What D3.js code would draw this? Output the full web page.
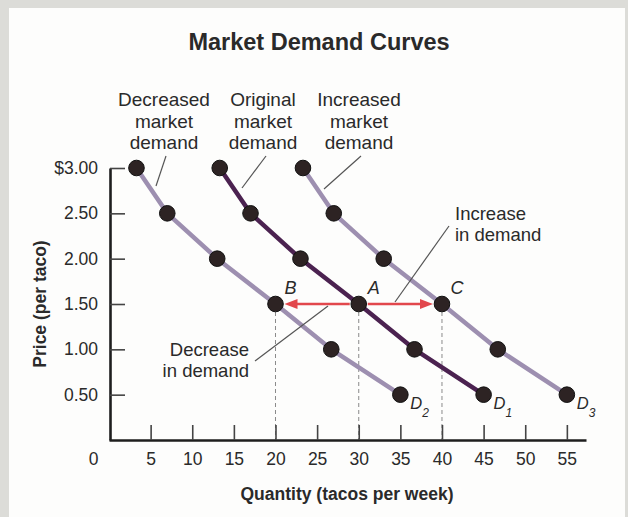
<!DOCTYPE html>
<html>
<head>
<meta charset="utf-8">
<script src="https://cdn.jsdelivr.net/npm/d3@7"></script>
<style>
  html, body { margin: 0; padding: 0; background: #dcdcd8; }
  svg { display: block; }
  text { font-family: "Liberation Sans", Arial, sans-serif; fill: #2a2a2a; }
</style>
</head>
<body>
<svg id="chart" width="628" height="517"></svg>
<script>
// ---- data ----
const prices = [3.00, 2.50, 2.00, 1.50, 1.00, 0.50];
const qtyDecreased = [3.3, 7, 13, 20, 26.7, 35];   // D2
const qtyOriginal  = [13.3, 17, 23, 30, 36.7, 45]; // D1
const qtyIncreased = [23.3, 27, 33, 40, 46.7, 55]; // D3
const seriesNames = ["D2", "D1", "D3"];
const yTicks = [0.5, 1.0, 1.5, 2.0, 2.5, 3.0];
const xTicks = [0, 5, 10, 15, 20, 25, 30, 35, 40, 45, 50, 55];
const shiftPrice = 1.50;
const pointB = 20, pointA = 30, pointC = 40;

const svg = d3.select("#chart");
// panel
svg.append("rect").attr("x", 9).attr("y", 8).attr("width", 616).attr("height", 509).attr("fill", "#fdfdfc");

const x = d3.scaleLinear().domain([0, 57.3]).range([109, 586]);
const y = d3.scaleLinear().domain([0, 3]).range([440, 168]);

// title
svg.append("text").attr("x", 319).attr("y", 50).attr("text-anchor", "middle")
  .style("font-size", "23.5px").style("font-weight", "bold").text("Market Demand Curves");

// dashed guides
[pointB, pointA, pointC].forEach(q => {
  svg.append("line").attr("x1", x(q)).attr("x2", x(q)).attr("y1", y(shiftPrice) + 8).attr("y2", y(0))
    .attr("stroke", "#8a8a8a").attr("stroke-width", 1).attr("stroke-dasharray", "4,3");
});

// axes
const xAxis = d3.axisBottom(x).tickValues(xTicks).tickSize(-15).tickSizeOuter(0).tickPadding(13)
  .tickFormat(d3.format("d"));
const gx = svg.append("g").attr("transform", `translate(0,${y(0)})`).call(xAxis);
gx.select(".domain").attr("stroke", "#1e1e1e").attr("stroke-width", 2.6);
gx.selectAll(".tick line").attr("stroke", "#444").attr("stroke-width", 1.6);
gx.selectAll(".tick text").style("font-size", "17.5px").attr("fill", "#2a2a2a").style("font-family", '"Liberation Sans", Arial, sans-serif');
gx.selectAll(".tick").filter(d => d === 0).select("line").remove();
gx.selectAll(".tick").filter(d => d === 0).select("text").attr("x", -16);

const yAxis = d3.axisLeft(y).tickValues(yTicks).tickSize(-15).tickSizeOuter(0).tickPadding(12)
  .tickFormat(d => d === 3 ? "$3.00" : d.toFixed(2));
const gy = svg.append("g").attr("transform", `translate(${x(0) + 1},0)`).call(yAxis);
gy.select(".domain").attr("stroke", "#1e1e1e").attr("stroke-width", 2.6);
gy.selectAll(".tick line").attr("stroke", "#444").attr("stroke-width", 1.6);
gy.selectAll(".tick text").style("font-size", "17.5px").attr("fill", "#2a2a2a").style("font-family", '"Liberation Sans", Arial, sans-serif');

// axis titles
svg.append("text").attr("x", 347).attr("y", 500).attr("text-anchor", "middle")
  .style("font-size", "17.5px").style("font-weight", "bold").text("Quantity (tacos per week)");
svg.append("text").attr("transform", "translate(46,304) rotate(-90)").attr("text-anchor", "middle")
  .style("font-size", "17.5px").style("font-weight", "bold").text("Price (per taco)");

// arrows
const red = "#e2474c";
function arrow(q0, q1, p) {
  const dir = Math.sign(q1 - q0);
  const xs = x(q0) + dir * 9, xe = x(q1) - dir * 9;
  svg.append("line").attr("x1", xs).attr("x2", xe - dir * 10).attr("y1", y(p)).attr("y2", y(p))
    .attr("stroke", red).attr("stroke-width", 2.4);
  svg.append("path").attr("d", `M${xe},${y(p)} L${xe - dir * 13},${y(p) - 5} L${xe - dir * 13},${y(p) + 5} Z`)
    .attr("fill", red);
}
arrow(pointA, pointB, shiftPrice);
arrow(pointA, pointC, shiftPrice);

// curves
const curves = [
  { name: seriesNames[0], q: qtyDecreased, color: "#9d8fb0", sub: "2" },
  { name: seriesNames[1], q: qtyOriginal, color: "#4b2250", sub: "1" },
  { name: seriesNames[2], q: qtyIncreased, color: "#9d8fb0", sub: "3" }
];
const line = d3.line().x(d => x(d[0])).y(d => y(d[1]));
curves.forEach(c => {
  const pts = c.q.map((q, i) => [q, prices[i]]);
  svg.append("path").attr("d", line(pts)).attr("fill", "none").attr("stroke", c.color)
    .attr("stroke-width", 4.5).attr("stroke-linejoin", "round");
});
curves.forEach(c => {
  const pts = c.q.map((q, i) => [q, prices[i]]);
  svg.selectAll(null).data(pts).enter().append("circle")
    .attr("cx", d => x(d[0])).attr("cy", d => y(d[1])).attr("r", 7.8)
    .attr("fill", "#2d2323").attr("stroke", "#111").attr("stroke-width", 1);
  const last = pts[pts.length - 1];
  const t = svg.append("text").attr("x", x(last[0]) + 10).attr("y", y(last[1]) + 14)
    .style("font-size", "16.5px").style("font-style", "italic");
  t.append("tspan").text("D");
  t.append("tspan").attr("dy", 8).style("font-size", "12px").text(c.sub);
});

// point labels
[["B", pointB], ["A", pointA], ["C", pointC]].forEach(([lab, q]) => {
  svg.append("text").attr("x", x(q) + 15).attr("y", y(shiftPrice) - 10).attr("text-anchor", "middle")
    .style("font-size", "18px").style("font-style", "italic").text(lab);
});

// header labels
const headers = [
  { lines: ["Decreased", "market", "demand"], cx: 164, leader: [[166, 156], [156, 186]] },
  { lines: ["Original", "market", "demand"], cx: 263, leader: [[266, 156], [242, 188]] },
  { lines: ["Increased", "market", "demand"], cx: 359, leader: [[361, 156], [324, 189]] }
];
headers.forEach(h => {
  h.lines.forEach((s, i) => {
    svg.append("text").attr("x", h.cx).attr("y", 106 + i * 21.5).attr("text-anchor", "middle")
      .style("font-size", "19px").text(s);
  });
  svg.append("line").attr("x1", h.leader[0][0]).attr("y1", h.leader[0][1])
    .attr("x2", h.leader[1][0]).attr("y2", h.leader[1][1]).attr("stroke", "#555").attr("stroke-width", 1.2);
});

// shift annotations
svg.append("text").attr("x", 455).attr("y", 220).style("font-size", "18.5px").text("Increase");
svg.append("text").attr("x", 455).attr("y", 241).style("font-size", "18.5px").text("in demand");
svg.append("line").attr("x1", 449).attr("y1", 226).attr("x2", 395).attr("y2", 302)
  .attr("stroke", "#555").attr("stroke-width", 1.2);

svg.append("text").attr("x", 249).attr("y", 356).attr("text-anchor", "end").style("font-size", "18.5px").text("Decrease");
svg.append("text").attr("x", 249).attr("y", 377).attr("text-anchor", "end").style("font-size", "18.5px").text("in demand");
svg.append("line").attr("x1", 255).attr("y1", 361).attr("x2", 328).attr("y2", 306)
  .attr("stroke", "#555").attr("stroke-width", 1.2);
</script>
</body>
</html>
